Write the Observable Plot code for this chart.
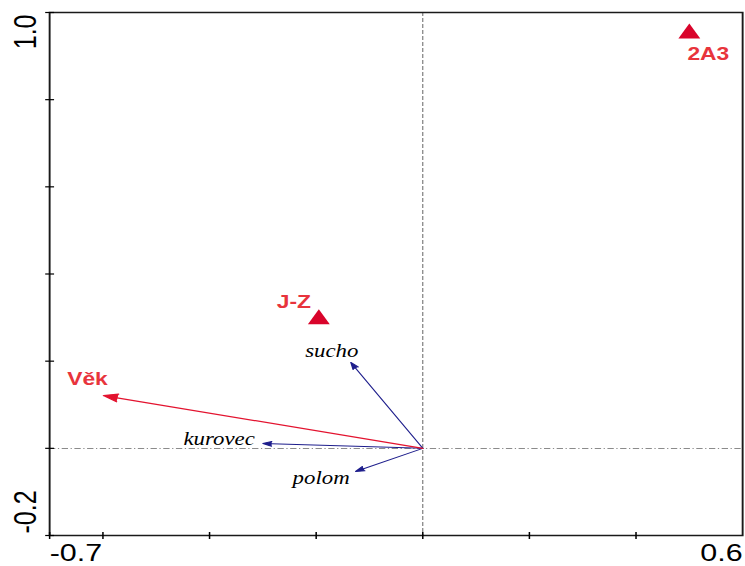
<!DOCTYPE html>
<html><head><meta charset="utf-8">
<script src="https://cdn.jsdelivr.net/npm/d3@7"></script>
<script src="https://cdn.jsdelivr.net/npm/@observablehq/plot@0.6"></script>
<style>html,body{margin:0;padding:0;background:#fff;} #chart svg{display:block;}</style>
</head><body><div id="chart"></div>
<script>
// ---- data ----
const xDomain = [-0.7, 0.6];
const yDomain = [-0.2, 1.0];
const xTicks = [-0.7, -0.6, -0.4, -0.2, 0, 0.2, 0.4];
const yTicks = [-0.2, 0, 0.2, 0.4, 0.6, 0.8, 1.0];
const xTickLabels = ["-0.7", "0.6"];
const yTickLabels = ["-0.2", "1.0"];

const siteNames = ["2A3", "J-Z"];
const siteX = [0.50, -0.195];
const siteY = [0.952, 0.296];

const envNames = ["Věk"];
const envX = [-0.599];
const envY = [0.121];

const speciesNames = ["sucho", "kurovec", "polom"];
const speciesX = [-0.135, -0.300, -0.126];
const speciesY = [0.197, 0.011, -0.053];

// ---- build tables ----
const sites = siteNames.map((name, i) => ({name, x: siteX[i], y: siteY[i]}));
const envs = envNames.map((name, i) => ({name, x: envX[i], y: envY[i]}));
const species = speciesNames.map((name, i) => ({name, x: speciesX[i], y: speciesY[i]}));

// ---- styling ----
const S = 1.2692;           // horizontal stretch of the original picture
const W = 587, H = 566;
const px = v => v / S;      // screen px -> unstretched px (horizontal)
const RED_MARK = "#d9042b";
const RED_TEXT = "#e8343c";
const RED_LINE = "#e3132f";
const BLUE = "#1e1e8c";
const SANS = "Liberation Sans, Arial, sans-serif";
const SERIF = "Liberation Serif, Times New Roman, serif";

const vTick = {draw(ctx, size) {const r = Math.sqrt(size / Math.PI); ctx.moveTo(0, -r); ctx.lineTo(0, r);}};
const hTick = {draw(ctx, size) {const r = Math.sqrt(size / Math.PI); ctx.moveTo(-r, 0); ctx.lineTo(r, 0);}};

const pick = (arr, name) => arr.filter(d => d.name === name);
const siteLabel = (name, dx, dy) => Plot.text(pick(sites, name), {x: "x", y: "y", text: "name", fill: RED_TEXT, fontWeight: "bold", fontSize: 18, fontFamily: SANS, dx: px(dx), dy});
const envLabel = (name, dx, dy) => Plot.text(pick(envs, name), {x: "x", y: "y", text: "name", fill: RED_TEXT, fontWeight: "bold", fontSize: 18, fontFamily: SANS, dx: px(dx), dy});
const spLabel = (name, dx, dy, anchor) => Plot.text(pick(species, name), {x: "x", y: "y", text: "name", fill: "#000", fontStyle: "italic", fontSize: 18, fontFamily: SERIF, textAnchor: anchor, dx: px(dx), dy});

const plot = Plot.plot({
  width: W,
  height: H,
  marginLeft: px(49),
  marginRight: px(3),
  marginTop: 12,
  marginBottom: 31,
  style: {fontFamily: SANS, background: "#fff"},
  x: {domain: xDomain, axis: null},
  y: {domain: yDomain, axis: null},
  marks: [
    Plot.ruleX([0], {stroke: "#666", strokeWidth: 0.8, strokeDasharray: "4,2"}),
    Plot.ruleY([0], {stroke: "#666", strokeWidth: 0.8, strokeDasharray: "5,2,1,2"}),
    Plot.arrow(species, {x1: () => 0, y1: () => 0, x2: "x", y2: "y", stroke: BLUE, fill: BLUE, strokeWidth: 1, headLength: 11, headAngle: 38}),
    Plot.arrow(envs, {x1: () => 0, y1: () => 0, x2: "x", y2: "y", stroke: RED_LINE, fill: RED_LINE, strokeWidth: 1.2, headLength: 15, headAngle: 38}),
    Plot.dot(sites, {x: "x", y: "y", symbol: "triangle", r: 6.4, fill: RED_MARK, stroke: "none"}),
    siteLabel("2A3", 19, 21),
    siteLabel("J-Z", -25, -17),
    envLabel("Věk", -16, -16),
    spLabel("sucho", -19, -11, "middle"),
    spLabel("kurovec", -8, -4, "end"),
    spLabel("polom", -6, 7, "end"),
    Plot.frame({stroke: "#1a1a1a", strokeWidth: 1.5}),
    Plot.dot(xTicks, {x: d => d, y: () => yDomain[0], symbol: vTick, r: 3.5, stroke: "#000", strokeWidth: 1.2}),
    Plot.dot(yTicks, {x: () => xDomain[0], y: d => d, symbol: hTick, r: 3.5, stroke: "#000", strokeWidth: 1.2}),
    Plot.text([xTickLabels[0]], {x: () => xDomain[0], y: () => yDomain[0], text: d => d, textAnchor: "start", lineAnchor: "bottom", dy: 25.5, fontSize: 24, fill: "#000"}),
    Plot.text([xTickLabels[1]], {x: () => xDomain[1], y: () => yDomain[0], text: d => d, textAnchor: "end", lineAnchor: "bottom", dy: 25.5, fontSize: 24, fill: "#000"}),
    Plot.text([yTickLabels[1]], {x: () => xDomain[0], y: () => yDomain[1], text: d => d, rotate: -90, textAnchor: "end", lineAnchor: "bottom", dx: px(-14), dy: 2, fontSize: 25, fill: "#000"}),
    Plot.text([yTickLabels[0]], {x: () => xDomain[0], y: () => yDomain[0], text: d => d, rotate: -90, textAnchor: "start", lineAnchor: "bottom", dx: px(-14), dy: -2, fontSize: 25, fill: "#000"})
  ]
});

plot.setAttribute("width", 745);
plot.setAttribute("height", H);
plot.setAttribute("viewBox", `0 0 ${W} ${H}`);
plot.setAttribute("preserveAspectRatio", "none");
plot.style.maxWidth = "none";
plot.style.width = "745px";
plot.style.height = H + "px";
document.getElementById("chart").append(plot);
</script>
</body></html>
